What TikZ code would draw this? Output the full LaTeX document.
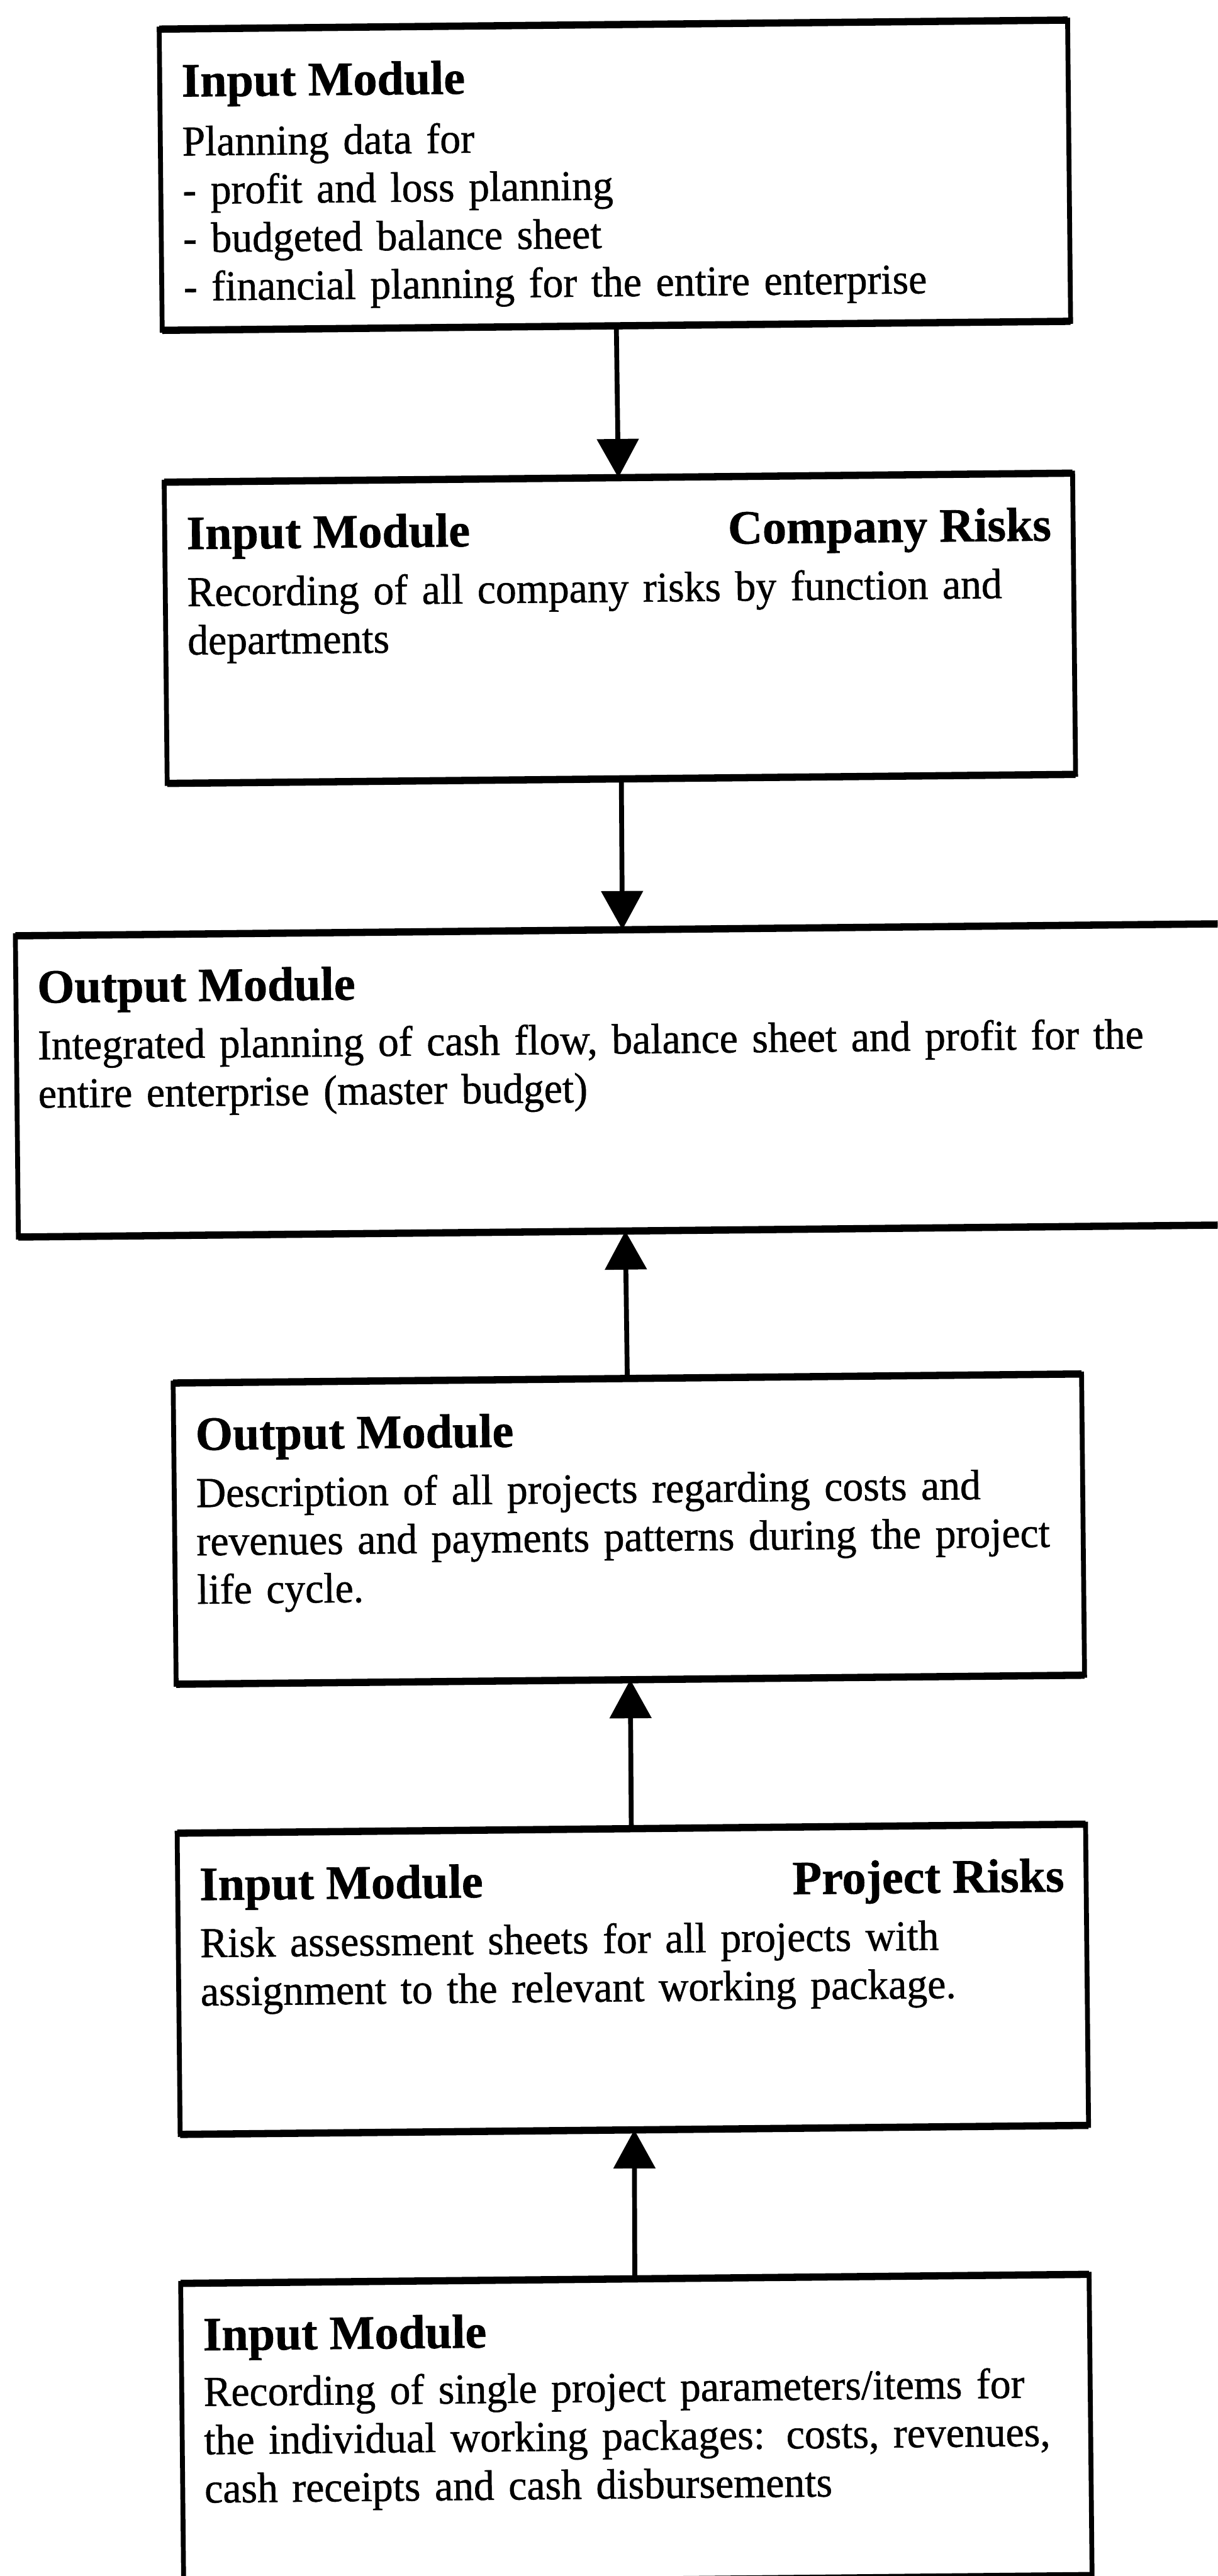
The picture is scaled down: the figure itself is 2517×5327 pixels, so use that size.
\documentclass[tikz,border=0pt]{standalone}
\usepackage{fontspec}
\setmainfont{Liberation Serif}
\newfontfamily\modbodyfont{Liberation Serif}[FakeStretch=0.97, FakeBold=0.8]
\newfontfamily\modheadfont{Liberation Serif}[BoldFeatures={FakeBold=0.8}]
\usetikzlibrary{arrows.meta}

\tikzset{
  modbox/.style={rectangle, draw, line width=10pt, inner sep=0pt, outer sep=0pt,
    minimum height=623pt, anchor=north west, transform shape,
    append after command={
      (\tikzlastnode.north west) edge[line width=15pt] (\tikzlastnode.north east)
      (\tikzlastnode.south west) edge[line width=15pt] (\tikzlastnode.south east)}},
  modtitle/.style={font=\modheadfont\fontsize{99}{110}\selectfont\bfseries, inner sep=0pt,
    transform shape},
  modtext/.style={font=\modbodyfont\fontsize{88}{100}\selectfont, inner sep=0pt, align=left,
    text width=2700pt, anchor=base west, transform shape},
  flow/.style={line width=10pt, -{Triangle[length=80pt,width=85pt]}}
}

\begin{document}
\begin{tikzpicture}[x=1pt,y=1pt]
\useasboundingbox (0,0) rectangle (2517,-5327);
\clip (0,0) rectangle (2517,-5327);
\fill[white] (0,0) rectangle (2517,-5327);

\begin{scope}[rotate around={0.57:(1258,-2663)}]

  % planning data input
  \begin{scope}[shift={(355,-51)}]
    \node[modbox, minimum width=1878pt] (b1) at (0,0) {};
    \node[modtitle, anchor=base west] (b1h) at (45,-140) {Input Module};
    \node[modtext] (b1t) at (45,-262)
      {Planning data for\\- profit and loss planning\\- budgeted balance sheet\\- financial planning for the entire enterprise};
  \end{scope}

  % company risks input
  \begin{scope}[shift={(356,-988)}]
    \node[modbox, minimum width=1878pt] (b2) at (0,0) {};
    \node[modtitle, anchor=base west] (b2h) at (45,-139) {Input Module};
    \node[modtitle, anchor=base east] (b2r) at (1833,-139) {Company Risks};
    \node[modtext] (b2t) at (45,-257)
      {Recording of all company risks by function and\\departments};
  \end{scope}

  % master budget output
  \begin{scope}[shift={(39,-1923)}]
    \node[modbox, minimum width=2510pt] (b3) at (0,0) {};
    \node[modtitle, anchor=base west] (b3h) at (44,-139) {Output Module};
    \node[modtext] (b3t) at (44,-256)
      {Integrated planning of cash flow, balance sheet and profit for the\\entire enterprise (master budget)};
  \end{scope}

  % project description output
  \begin{scope}[shift={(356,-2851)}]
    \node[modbox, minimum width=1878pt] (b4) at (0,0) {};
    \node[modtitle, anchor=base west] (b4h) at (45,-139) {Output Module};
    \node[modtext] (b4t) at (45,-257)
      {Description of all projects regarding costs and\\revenues and payments patterns during the project\\life cycle.};
  \end{scope}

  % project risks input
  \begin{scope}[shift={(355,-3782)}]
    \node[modbox, minimum width=1878pt] (b5) at (0,0) {};
    \node[modtitle, anchor=base west] (b5h) at (45,-139) {Input Module};
    \node[modtitle, anchor=base east] (b5r) at (1833,-139) {Project Risks};
    \node[modtext] (b5t) at (45,-257)
      {Risk assessment sheets for all projects with\\assignment to the relevant working package.};
  \end{scope}

  % project parameters input
  \begin{scope}[shift={(353,-4713)}]
    \node[modbox, minimum width=1878pt] (b6) at (0,0) {};
    \node[modtitle, anchor=base west] (b6h) at (45,-139) {Input Module};
    \node[modtext] (b6t) at (45,-254)
      {Recording of single project parameters/items for\\the individual working packages: costs, revenues,\\cash receipts and cash disbursements};
  \end{scope}

  % connectors
  \draw[flow] (b1.south) -- (b2.north);
  \draw[flow] (b2.south) -- (b3.north);
  \draw[flow] (b4.north) -- (b3.south);
  \draw[flow] (b5.north) -- (b4.south);
  \draw[flow] (b6.north) -- (b5.south);

\end{scope}
\end{tikzpicture}
\end{document}
